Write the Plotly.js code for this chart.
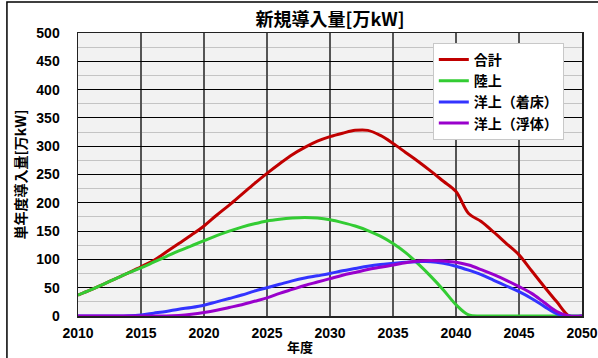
<!DOCTYPE html>
<html>
<head>
<meta charset="utf-8">
<script src="https://cdn.plot.ly/plotly-3.0.1.min.js"></script>
<style>
html,body{margin:0;padding:0;background:#fff;}
#chart{width:598px;height:358px;}
</style>
</head>
<body>
<div id="chart"></div>
<script>
const years = [2010,2011,2012,2013,2014,2015,2016,2017,2018,2019,2020,2021,2022,2023,2024,2025,2026,2027,2028,2029,2030,2031,2032,2033,2034,2035,2036,2037,2038,2039,2040,2041,2042,2043,2044,2045,2046,2047,2048,2049,2050];

const totalValues = [37,46,56,66,76,87,98,113,128,143,159,178,196,215,234,252,269,285,298,309,317,323,328,328,319,305,289,273,256,238,220,181,167,148,128,108,80,52,25,0,0];
const onshoreValues = [37,46,56,66,76,85,95,105,115,124,133,142,150,157,163,168,171,173,174,173,170,165,159,151,141,128,112,92,70,46,20,2,0,0,0,0,0,0,0,0,0];
const fixedValues = [0,0,0,0,0.5,2,5,8,12,15,19,25,31,37,44,50,56,62,67,71,75,80,84,88,91,93,95,96,96,93,88,81,73,63,53,43,31,17,4,0,0];
const floatingValues = [0,0,0,0,0,0,0,0,1,3,6,10,15,20,26,32,40,47,54,60,66,72,77,82,86,90,94,97,98,97,95,90,82,73,63,52,40,24,8,0,0];

const seriesNames = ["合計","陸上","洋上（着床）","洋上（浮体）"];
const seriesColors = ["#C00000","#33CC33","#3333FF","#9900CC"];
const seriesValues = [totalValues, onshoreValues, fixedValues, floatingValues];

const titleText = "新規導入量[万kW]";
const xTitleText = "年度";
const yTitleText = "単年度導入量[万kW]";

const FONT = "'Liberation Sans', Arial, 'Noto Sans CJK JP', sans-serif";
const JFONT = "'Noto Sans CJK JP', sans-serif";

const traces = seriesNames.map((name, i) => ({
  type: "scatter",
  mode: "lines",
  name: name,
  x: years,
  y: seriesValues[i],
  legendgroup: "g" + i,
  line: {color: seriesColors[i], width: 3, shape: "spline", smoothing: 1}
}));

const layout = {
  width: 598,
  height: 358,
  margin: {l: 78, r: 16, t: 33, b: 42, pad: 0},
  paper_bgcolor: "#ffffff",
  plot_bgcolor: "#F2F2F2",
  font: {family: FONT, color: "#000", size: 13},
  title: {
    text: titleText,
    font: {family: JFONT, size: 18, weight: 700, color: "#000"},
    x: 0.552, xanchor: "center", y: 0.945, yanchor: "middle"
  },
  xaxis: {
    range: [2010, 2050],
    tickmode: "linear", tick0: 2010, dtick: 5,
    showgrid: true, gridcolor: "#555555", gridwidth: 1.5,
    showline: true, linecolor: "#222", linewidth: 1.5, mirror: true,
    ticks: "", zeroline: false,
    tickfont: {family: FONT, size: 14, weight: 700, color: "#000"},
    ticklabelstandoff: 4,
    fixedrange: true
  },
  yaxis: {
    range: [0, 500],
    tickmode: "linear", tick0: 0, dtick: 50,
    showgrid: true, gridcolor: "#000000", gridwidth: 1,
    minor: {dtick: 25, showgrid: true, gridcolor: "#C4C4C4", gridwidth: 1},
    showline: true, linecolor: "#222", linewidth: 1.5, mirror: true,
    ticks: "", zeroline: false,
    tickfont: {family: FONT, size: 14, weight: 700, color: "#000"},
    ticklabelstandoff: 14,
    title: {text: yTitleText, standoff: 6, font: {family: JFONT, size: 14, weight: 700, color: "#000"}},
    fixedrange: true
  },
  annotations: [{
    text: xTitleText, xref: "paper", yref: "paper",
    x: 0.4405, y: -0.108, xanchor: "center", yanchor: "middle",
    showarrow: false, borderpad: 0,
    font: {family: JFONT, size: 13, weight: 700, color: "#000"}
  }],
  legend: {
    x: 0.704, y: 0.965, xanchor: "left", yanchor: "top",
    bgcolor: "#ffffff", bordercolor: "#C8C8C8", borderwidth: 1,
    font: {family: JFONT, size: 14, weight: 700, color: "#000"},
    tracegroupgap: 5,
    traceorder: "normal"
  },
  shapes: [{
    type: "rect", xref: "paper", yref: "paper",
    x0: -0.141, x1: 1.1, y0: -0.3, y1: 1.1095,
    line: {color: "#000", width: 1.5}, fillcolor: "rgba(0,0,0,0)", layer: "above"
  }],
  showlegend: true
};

Plotly.newPlot("chart", traces, layout, {displayModeBar: false, staticPlot: true});
</script>
</body>
</html>
